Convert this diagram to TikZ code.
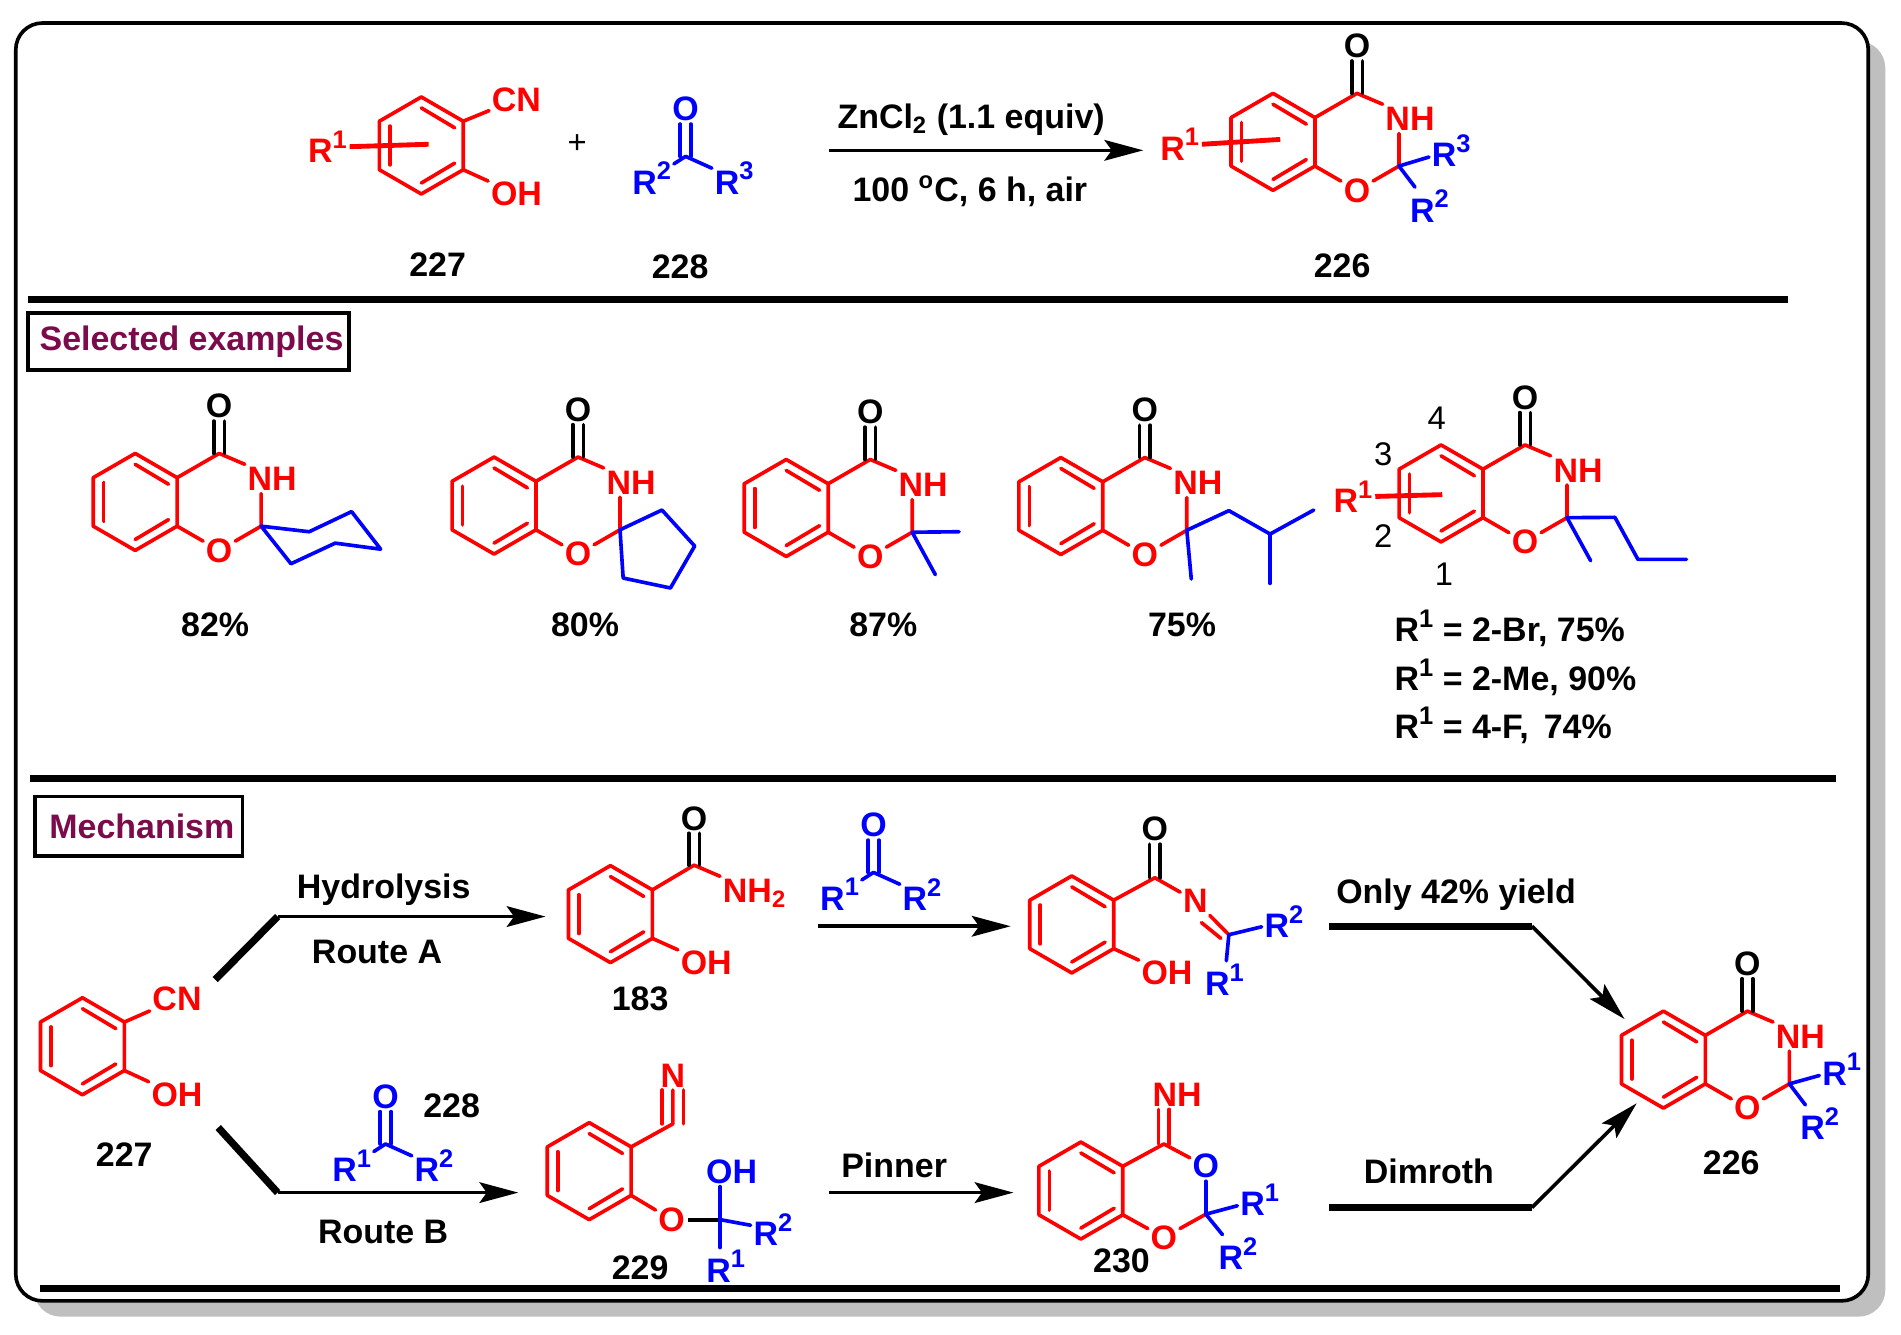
\documentclass[tikz,border=0pt]{standalone}
\usepackage{fontspec}
\setmainfont{Liberation Sans}
\usetikzlibrary{arrows.meta}

\definecolor{headcol}{RGB}{125,10,75}

\tikzset{
  every node/.style={font=\bfseries\fontsize{14}{16}\selectfont},
  ratom/.style={text=red,inner sep=1pt},
  batom/.style={text=blue,inner sep=1pt},
  katom/.style={text=black,inner sep=1pt},
  numlbl/.style={font=\fontsize{13.5}{16}\selectfont,inner sep=0pt},
  headbox/.style={draw,line width=1.5pt,text=headcol,inner sep=0pt,fill=white},
  bond/.style={red,line width=1.5pt,line cap=round,line join=round},
  bbond/.style={blue,line width=1.5pt,line cap=round,line join=round},
  cbond/.style={black,line width=1.5pt,line cap=round},
  rline/.style={red,line width=2pt},
  rule/.style={black,line width=3pt},
  bar/.style={black,line width=3pt},
  stem/.style={black,line width=1.5pt,-{Stealth[length=16pt,width=8.5pt,inset=3pt]}}
}

% R group with its number
\newcommand{\Rn}[1]{R\raisebox{0.42em}{\fontsize{10.5}{10.5}\selectfont #1}}

% benzene ring, centre at #2,#3
\newcommand{\BenzRing}[3]{
\begin{scope}[shift={(#2,#3)}]
  \coordinate (#1a) at (0,-40);
  \coordinate (#1b) at (34.6,-20);
  \coordinate (#1c) at (34.6,20);
  \coordinate (#1d) at (0,40);
  \coordinate (#1e) at (-34.6,20);
  \coordinate (#1f) at (-34.6,-20);
  \draw[bond] (#1a) -- (#1b) -- (#1c) -- (#1d) -- (#1e) -- (#1f) -- cycle;
  \draw[bond] (0,-31) -- (27.5,-14.6);
  \draw[bond] (0,31) -- (27.5,14.6);
  \draw[bond] (-26,-16) -- (-26,16);
\end{scope}
}

% ring with the O, NH and C=O around it
\newcommand{\CoreRing}[3]{
\BenzRing{#1}{#2}{#3}
\begin{scope}[shift={(#2,#3)}]
  \coordinate (#1C4) at (69.3,-40);
  \coordinate (#1C2) at (103.9,20);
  \node[ratom] (#1NH) at (113,-19) {NH};
  \node[ratom] (#1O) at (69.3,40) {O};
  \node[katom] (#1CO) at (69.3,-79) {O};
  \draw[bond] (#1b) -- (#1C4) -- (#1NH.north west);
  \draw[bond] (#1C2 |- #1NH.south) -- (#1C2) -- (#1O);
  \draw[bond] (#1c) -- (#1O);
  \draw[cbond] ([xshift=-2.2pt]#1CO.south) -- ([xshift=-2.2pt]#1C4);
  \draw[cbond] ([xshift=2.2pt]#1CO.south) -- ([xshift=2.2pt]#1C4);
\end{scope}
}

% blue ketone, carbon at #2,#3
\newcommand{\Ketone}[5]{
\begin{scope}[shift={(#2,#3)}]
  \coordinate (#1C) at (0,0);
  \node[batom] (#1O) at (0,-39) {O};
  \node[batom] (#1L) at (-28,18) {\Rn{#4}};
  \node[batom] (#1R) at (40,18) {\Rn{#5}};
  \draw[bbond] ([xshift=-2.2pt]#1O.south) -- ([xshift=-2.2pt]#1C);
  \draw[bbond] ([xshift=2.2pt]#1O.south) -- ([xshift=2.2pt]#1C);
  \draw[bbond] (#1L) -- (#1C) -- (#1R);
\end{scope}
}

\begin{document}
\begin{tikzpicture}[x=0.5pt,y=-0.5pt]
\useasboundingbox (0,0) rectangle (1568,1100.4);

% outer frame and its shadow
\fill[black!25,rounded corners=11pt] (28,34) rectangle (1555,1086);
\draw[line width=1.5pt,fill=white,rounded corners=11pt] (13,19) rectangle (1541,1073);

% section rules
\draw[rule] (23,247) -- (1475,247);
\draw[rule] (25,642) -- (1514,642);
\draw[rule] (33,1063) -- (1518,1063);

% top reaction, starting materials
\BenzRing{sa}{347.5}{120}
\node[ratom] (saCN) at (426,82) {CN};
\node[ratom] (saOH) at (426,160) {OH};
\node[ratom] (saR) at (270,121) {\Rn{1}};
\coordinate (saEnd) at (353.5,119);
\draw[bond] (sab) -- (saCN);
\draw[bond] (sac) -- (saOH);
\draw[rline] (saR.east) -- (saEnd);
\node[numlbl] (plus) at (476,119) {+};
\Ketone{sk}{565.5}{129}{2}{3}
\node (lbA) at (361,218) {227};
\node (lbB) at (561,220) {228};

% top reaction, arrow
\node (cond) at (801,98.5) {ZnCl\textsubscript{2} (1.1 equiv)};
\node (temp) at (800,157.5) {100 \textsuperscript{o}C, 6 h, air};
\coordinate (arrS) at (684,124);
\coordinate (arrE) at (943,124);
\draw[stem] (arrS) -- (arrE);

% top reaction, product
\CoreRing{tp}{1050}{117}
\node[ratom] (tpR) at (973,119) {\Rn{1}};
\coordinate (tpEnd) at (1056,115);
\draw[rline] (tpR.east) -- (tpEnd);
\node[batom] (tpRc) at (1197,124) {\Rn{3}};
\node[batom] (tpRb) at (1179,170) {\Rn{2}};
\draw[bbond] (tpC2) -- (tpRc);
\draw[bbond] (tpC2) -- (tpRb);
\node (lbC) at (1107,219) {226};

% selected examples
\node[headbox,minimum width=132.5pt,minimum height=23.5pt] (hdS) at (155.5,281.5) {\hspace{2.5pt}\raisebox{-1pt}{Selected examples}};

\CoreRing{ea}{111.5}{414}
\draw[bbond] (eaC2) -- (255,438.6) -- (290,422) -- (314,453) -- (276.5,448) -- (240,465) -- cycle;
\node (yA) at (177.5,515.5) {82\%};

\CoreRing{eb}{407.5}{417}
\draw[bbond] (ebC2) -- (546,420.7) -- (573,450.4) -- (553,485) -- (514,476.8) -- cycle;
\node (yB) at (482.5,515.5) {80\%};

\CoreRing{ec}{648.5}{419}
\draw[bbond] (ecC2) -- (791,438.6);
\draw[bbond] (ecC2) -- (771.5,474);
\node (yC) at (728.5,515.5) {87\%};

\CoreRing{ed}{875}{417.4}
\draw[bbond] (edC2) -- (1013.6,421.2) -- (1047.6,440.5) -- (1083.6,420.7);
\draw[bbond] (1047.6,440.5) -- (1047.6,481.2);
\draw[bbond] (edC2) -- (982.6,477.6);
\node (yD) at (975,515.5) {75\%};

\CoreRing{ee}{1188.6}{407}
\draw[bbond] (eeC2) -- (1332,426.7) -- (1351,461.4) -- (1391,461.4);
\draw[bbond] (eeC2) -- (1312,462.5);
\node[ratom] (eeR) at (1116,409.5) {\Rn{1}};
\coordinate (eeEnd) at (1189.6,408);
\draw[rline] (eeR.east) -- (eeEnd);
\node[numlbl] (nF) at (1185,345) {4};
\node[numlbl] (nE) at (1141,375) {3};
\node[numlbl] (nD) at (1141,442) {2};
\node[numlbl] (nC) at (1191,474) {1};
\node[anchor=west,inner sep=0pt] (yE) at (1150,518.5) {\Rn{1} = 2-Br, 75\%};
\node[anchor=west,inner sep=0pt] (yF) at (1150,558.5) {\Rn{1} = 2-Me, 90\%};
\node[anchor=west,inner sep=0pt] (yG) at (1150,598.5) {\Rn{1} = 4-F, \,74\%};

% mechanism
\node[headbox,minimum width=85.5pt,minimum height=24.5pt] (hdM) at (114.5,681.5) {\hspace{2.5pt}\raisebox{-1pt}{Mechanism}};

\BenzRing{ma}{68}{863}
\node[ratom] (maCN) at (146,824) {CN};
\node[ratom] (maOH) at (146,903) {OH};
\draw[bond] (mab) -- (maCN);
\draw[bond] (mac) -- (maOH);
\node (lbD) at (102.5,952) {227};

% route A
\coordinate (raS) at (177.5,808);
\coordinate (raM) at (229,756);
\coordinate (raE) at (450,756);
\draw[bar] (raS) -- (raM);
\draw[stem] (raM) -- (raE);
\node (hyd) at (316.5,734) {Hydrolysis};
\node (rta) at (311,785) {Route A};

% amide 183
\BenzRing{mb}{503.5}{754}
\coordinate (mbC) at (572.5,713.6);
\node[katom] (mbCO) at (572.5,675) {O};
\node[ratom] (mbN) at (622.5,737) {NH\textsubscript{2}};
\node[ratom] (mbOH) at (582.5,794) {OH};
\draw[bond] (mbb) -- (mbC) -- (mbN.north west);
\draw[bond] (mbc) -- (mbOH);
\draw[cbond] ([xshift=-2.2pt]mbCO.south) -- ([xshift=-2.2pt]mbC);
\draw[cbond] ([xshift=2.2pt]mbCO.south) -- ([xshift=2.2pt]mbC);
\node (lbE) at (528,824) {183};

\Ketone{mk}{720.5}{719.6}{1}{2}
\coordinate (rcS) at (675,764);
\coordinate (rcE) at (833.6,764);
\draw[stem] (rcS) -- (rcE);

% imine
\BenzRing{mc}{884}{762.5}
\coordinate (mcC) at (952.6,724);
\coordinate (mcD) at (1013.6,771);
\node[katom] (mcCO) at (952.6,684) {O};
\node[ratom] (mcN) at (986,743) {N};
\node[ratom] (mcOH) at (962.6,802.6) {OH};
\node[batom] (mcRb) at (1059,760) {\Rn{2}};
\node[batom] (mcRa) at (1010,808) {\Rn{1}};
\draw[bond] (mcb) -- (mcC) -- (mcN);
\draw[bond] (mcc) -- (mcOH);
\draw[cbond] ([xshift=-2.2pt]mcCO.south) -- ([xshift=-2.2pt]mcC);
\draw[cbond] ([xshift=2.2pt]mcCO.south) -- ([xshift=2.2pt]mcC);
\draw[bond] (mcN) -- (mcD);
\draw[bond] (991,761) -- (1007,774);
\draw[bbond] (mcD) -- (mcRb);
\draw[bbond] (mcD) -- (mcRa);

% first way to the product
\coordinate (rdS) at (1096,764);
\coordinate (rdM) at (1263.6,764);
\coordinate (rdE) at (1340,840.6);
\draw[bar] (rdS) -- (rdM);
\draw[stem] (rdM) -- (rdE);
\node (only) at (1201,738) {Only 42\% yield};

% route B
\coordinate (rbS) at (180,930);
\coordinate (rbM) at (229,983.7);
\coordinate (rbE) at (427.5,983.7);
\draw[bar] (rbS) -- (rbM);
\draw[stem] (rbM) -- (rbE);
\Ketone{nk}{318}{943.6}{1}{2}
\node (lbF) at (372.5,912.5) {228};
\node (rtb) at (316,1016.5) {Route B};

% nitrile 229
\BenzRing{md}{486}{966}
\coordinate (mdC) at (555,927);
\node[ratom] (mdN) at (555,887) {N};
\node[ratom] (mdO) at (554,1006) {O};
\coordinate (mdQ) at (594,1006);
\node[batom] (mdOH) at (603.5,966.5) {OH};
\node[batom] (mdRb) at (637.5,1014) {\Rn{2}};
\node[batom] (mdRa) at (598.5,1044.5) {\Rn{1}};
\draw[bond] (mdb) -- (mdC) -- (mdN);
\draw[bond] ([xshift=-4.4pt]mdC) -- ([xshift=-4.4pt]mdC |- mdN.south);
\draw[bond] ([xshift=4.4pt]mdC) -- ([xshift=4.4pt]mdC |- mdN.south);
\draw[bond] (mdc) -- (mdO);
\draw[black,line width=1.7pt] (mdO) -- (mdQ);
\draw[bbond] (mdQ) -- (mdQ |- mdOH.south);
\draw[bbond] (mdQ) -- (mdQ |- mdRa.north);
\draw[bbond] (mdQ) -- (mdRb);
\node (lbG) at (528,1045.5) {229};

\coordinate (reS) at (684,983.7);
\coordinate (reE) at (836,983.7);
\draw[stem] (reS) -- (reE);
\node (pin) at (737.5,961.5) {Pinner};

% imidate 230
\BenzRing{me}{891.5}{982}
\coordinate (meC) at (960,943.6);
\coordinate (meQ) at (994.6,1001.5);
\node[ratom] (meNH) at (971,903) {NH};
\node[batom] (meOb) at (994.6,962) {O};
\node[ratom] (meOa) at (960,1020.7) {O};
\node[batom] (meRa) at (1039,989.6) {\Rn{1}};
\node[batom] (meRb) at (1021,1034) {\Rn{2}};
\draw[bond] (meb) -- (meC) -- (meOb);
\draw[bond] ([xshift=-2.2pt]meC) -- ([xshift=-2.2pt]meC |- meNH.south);
\draw[bond] ([xshift=2.2pt]meC) -- ([xshift=2.2pt]meC |- meNH.south);
\draw[bond] (mec) -- (meOa);
\draw[bond] (meQ) -- (meOa);
\draw[bbond] (meOb) -- (meQ);
\draw[bbond] (meQ) -- (meRa);
\draw[bbond] (meQ) -- (meRb);
\node (lbH) at (925,1040) {230};

% second way to the product
\coordinate (rfS) at (1096,996);
\coordinate (rfM) at (1263.6,996);
\coordinate (rfE) at (1350,910);
\draw[bar] (rfS) -- (rfM);
\draw[stem] (rfM) -- (rfE);
\node (dim) at (1178.6,966) {Dimroth};

% product 226
\CoreRing{mp}{1372}{874}
\node[batom] (mpRa) at (1519,882) {\Rn{1}};
\node[batom] (mpRb) at (1501,927) {\Rn{2}};
\draw[bbond] (mpC2) -- (mpRa);
\draw[bbond] (mpC2) -- (mpRb);
\node (lbI) at (1428,959) {226};
\end{tikzpicture}
\end{document}
